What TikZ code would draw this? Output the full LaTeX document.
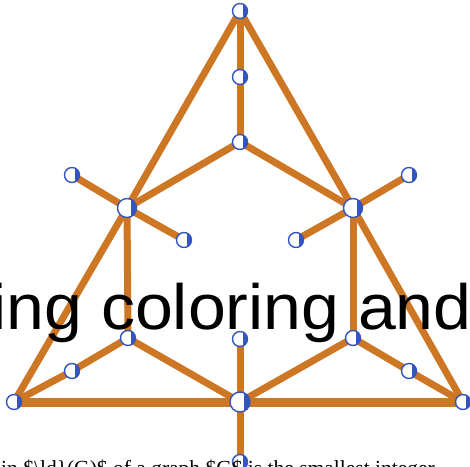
\documentclass[tikz,border=0pt]{standalone}
\usepackage{fontspec}
\usepackage{graphicx}
\setmainfont{Liberation Serif}
\newfontfamily\bigsans{Liberation Sans}
\usetikzlibrary{backgrounds}
\definecolor{edgeor}{RGB}{205,118,36}
\definecolor{vblue}{RGB}{52,84,190}
\begin{document}
\begin{tikzpicture}[x=1pt,y=-1pt,
  vert/.style={circle,inner sep=0pt,minimum size=#1,fill=white,draw=vblue,line width=1.4pt,
    path picture={\fill[vblue] ([xshift=0.2*#1]path picture bounding box.north) rectangle (path picture bounding box.south east);}},
  vert/.default=15pt,
  hub/.style={vert=19pt},
  edge/.style={draw=edgeor,line width=7pt},
  base/.style={draw=edgeor,line width=9pt}]
\useasboundingbox (0,0) rectangle (470,466);
\clip (0,0) rectangle (470,466);
% vertices
\node[vert] (t) at (240,11) {};
\node[vert] (m1) at (240,77) {};
\node[vert] (m2) at (240,142) {};
\node[hub] (hl) at (127,208) {};
\node[hub] (hr) at (353,208) {};
\node[vert] (ll1) at (72,175) {};
\node[vert] (ll2) at (184,240) {};
\node[vert] (rl1) at (409,175) {};
\node[vert] (rl2) at (296,240) {};
\node[vert] (lm) at (128,338) {};
\node[vert] (rm) at (353,338) {};
\node[vert] (cm) at (240,339) {};
\node[vert] (lq) at (72,371) {};
\node[vert] (rq) at (409,371) {};
\node[vert] (bl) at (14,402) {};
\node[vert=20pt] (bc) at (240,402) {};
\node[vert] (br) at (463,402) {};
\node[vert] (bb) at (240,462) {};
% edges
\begin{pgfonlayer}{background}
\foreach \a/\b in {t/m1,m1/m2,m2/hl,m2/hr,t/hl,hl/bl,t/hr,hr/br,hl/ll1,hl/ll2,hr/rl1,hr/rl2,
  hl/lm,hr/rm,lm/bc,rm/bc,lm/lq,lq/bl,rm/rq,rq/br,cm/bc,bc/bb}
  \draw[edge] (\a.center) -- (\b.center);
\draw[base] (bl.center) -- (bc.center) -- (br.center);
\end{pgfonlayer}
% texts
\node[anchor=base east,inner sep=0pt,font=\bigsans\fontsize{64}{64}\selectfont] (big) at (472,329) {\scalebox{1.063}[1]{king coloring and}};
\node[anchor=base west,inner sep=0pt,font=\fontsize{21.5}{21.5}\selectfont] (low) at (1,475) {in \$\textbackslash ld\}(G)\$ of a graph \$G\$ is the smallest integer};
\end{tikzpicture}
\end{document}
